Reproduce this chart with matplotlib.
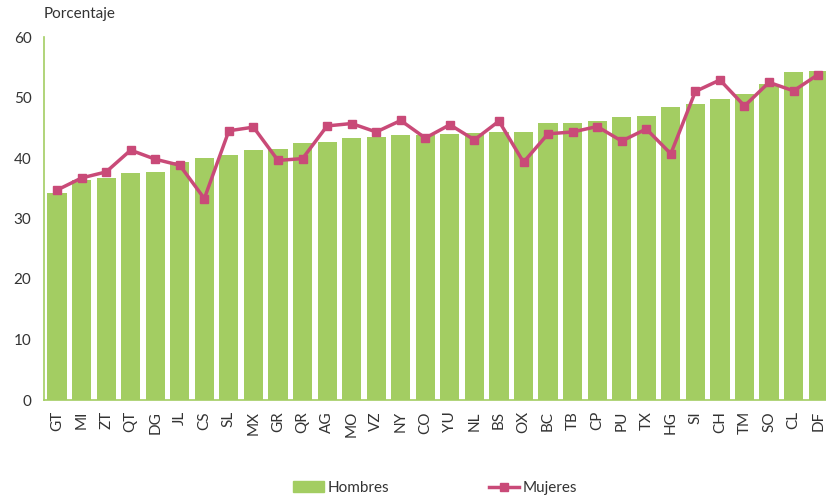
import matplotlib
matplotlib.use("Agg")
import matplotlib.pyplot as plt
import numpy as np
from matplotlib.lines import Line2D
from matplotlib.patches import Patch

categories = ["GT", "MI", "ZT", "QT", "DG", "JL", "CS", "SL", "MX", "GR", "QR", "AG", "MO", "VZ", "NY", "CO",
              "YU", "NL", "BS", "OX", "BC", "TB", "CP", "PU", "TX", "HG", "SI", "CH", "TM", "SO", "CL", "DF"]
hombres = [34.2, 36.4, 36.7, 37.5, 37.7, 39.3, 40.0, 40.5, 41.3, 41.5, 42.4, 42.6, 43.3, 43.5, 43.8, 43.8,
           44.0, 44.1, 44.3, 44.3, 45.8, 45.8, 46.1, 46.8, 46.9, 48.4, 49.0, 49.8, 50.6, 52.2, 54.2, 54.4]
mujeres = [34.7, 36.7, 37.7, 41.3, 39.8, 38.8, 33.3, 44.5, 45.1, 39.6, 39.9, 45.3, 45.7, 44.3, 46.2, 43.3,
           45.5, 43.0, 46.1, 39.3, 44.0, 44.3, 45.2, 42.8, 44.8, 40.7, 51.0, 52.9, 48.6, 52.5, 51.1, 53.8]
yticks = [0, 10, 20, 30, 40, 50, 60]

plt.rcParams['font.family'] = ['Lato', 'DejaVu Sans']
text_color = "#333333"
bar_color = "#a3cd62"
line_color = "#c94a78"

fig = plt.figure(figsize=(8.26, 5.0), dpi=100)
ax = fig.add_axes([44/826, 0.2, 782/826, 0.726])
x = np.arange(len(categories))
ax.bar(x, hombres, width=0.78, color=bar_color, zorder=2)
ax.plot(x, mujeres, color=line_color, lw=2.5, marker="s", ms=6, zorder=3)

ax.set_xlim(-0.53, 31.32)
ax.set_ylim(0, 60)
ax.set_yticks(yticks)
ax.set_xticks(x)
ax.set_xticklabels(categories, rotation=90, fontsize=11, color=text_color)
ax.tick_params(axis="both", length=0, colors=text_color, labelsize=11)
ax.tick_params(axis="x", pad=8)
ax.tick_params(axis="y", pad=9)
for s in ["top", "right"]:
    ax.spines[s].set_visible(False)
for s in ["left", "bottom"]:
    ax.spines[s].set_color(bar_color)
    ax.spines[s].set_linewidth(1.2)

fig.text(44/826, 1 - 14/500, "Porcentaje", fontsize=11, color=text_color, ha="left", va="center")

handles = [Patch(color=bar_color, label="Hombres"),
           Line2D([0], [0], color=line_color, lw=2.5, marker="s", ms=6, label="Mujeres")]
fig.legend(handles=handles, loc="center", bbox_to_anchor=(0.527, 0.024), ncol=2, frameon=False,
           fontsize=11, columnspacing=6.5, handlelength=2.0, handletextpad=0.25, labelcolor=text_color)

fig.savefig("out.png", dpi=100)
